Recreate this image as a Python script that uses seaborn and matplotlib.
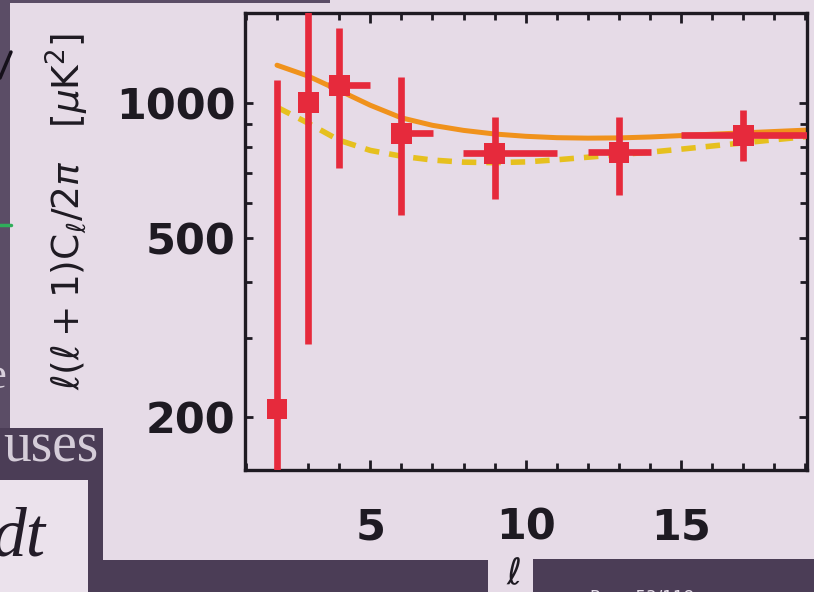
import matplotlib
matplotlib.use("Agg")
import matplotlib.pyplot as plt
import matplotlib.ticker as mticker
from matplotlib.patches import Rectangle
from matplotlib.lines import Line2D
import seaborn as sns
import numpy as np

# ---------------- data ----------------
ell = [2, 3, 4, 6, 9, 13, 17]
cl = [208, 1005, 1097, 857, 773, 777, 848]
cl_upper = [1125, 2500, 1470, 1143, 930, 930, 965]
cl_lower = [1, 291, 716, 562, 610, 623, 742]
bin_lo = [2, 3, 3.64, 5.7, 7.98, 12.0, 15.0]
bin_hi = [2, 3, 5.0, 7.02, 11.0, 14.03, 19.05]

ell_th = [2, 3, 4, 5, 6, 7, 8, 9, 10, 11, 12, 13, 14, 15, 16, 17, 18, 19]
model_solid = [1216, 1150, 1068, 990, 928, 893, 870, 854, 844, 838, 836, 837,
               841, 847, 853, 859, 865, 871]
model_dashed = [980, 903, 827, 785, 762, 747, 739, 737, 740, 748, 758, 768,
                778, 790, 803, 816, 829, 842]

y_ticks = [200, 500, 1000]
y_minor = [300, 400, 600, 700, 800, 900]
x_ticks = [5, 10, 15]

# ---------------- style ----------------
BG = "#e6dbe7"
DARK = "#4b3d56"
RED = "#e62a3c"
ORANGE = "#f0921c"
GOLD = "#e6c01e"
INK = "#1e1a22"

sns.set_theme(style="ticks")
plt.rcParams["font.family"] = ["DejaVu Sans"]

W, H = 814, 592
fig = plt.figure(figsize=(W / 100, H / 100), dpi=100)
fig.patch.set_facecolor(BG)

def fx(px):
    return px / W

def fy(py):
    return 1 - py / H

L, R, T, B = 245, 807, 13, 470
ax = fig.add_axes([fx(L), fy(B), (R - L) / W, (B - T) / H])
ax.set_facecolor(BG)

# theory curves
sns.lineplot(x=ell_th, y=model_solid, ax=ax, color=ORANGE, linewidth=3.6,
             zorder=2)
sns.lineplot(x=ell_th, y=model_dashed, ax=ax, color=GOLD, linewidth=4.0,
             linestyle="--", zorder=2)
ax.lines[-1].set_dashes([2.6, 1.8])

# data error bars
ell_a = np.array(ell, dtype=float)
cl_a = np.array(cl, dtype=float)
yerr = [cl_a - np.array(cl_lower), np.array(cl_upper) - cl_a]
xerr = [ell_a - np.array(bin_lo), np.array(bin_hi) - ell_a]
ax.errorbar(ell_a, cl_a, yerr=yerr, xerr=xerr, fmt="none", ecolor=RED,
            elinewidth=4.8, capsize=0, zorder=3)
sns.scatterplot(x=ell, y=cl, ax=ax, marker="s", s=225, color=RED,
                edgecolor="none", linewidth=0, zorder=4)

ax.set_yscale("log")
ax.set_xlim(0.97, 19.05)
ax.set_ylim(152, 1590)

ax.yaxis.set_major_locator(mticker.FixedLocator(y_ticks))
ax.yaxis.set_major_formatter(mticker.FixedFormatter([str(v) for v in y_ticks]))
ax.yaxis.set_minor_locator(mticker.FixedLocator(y_minor))
ax.yaxis.set_minor_formatter(mticker.NullFormatter())
ax.xaxis.set_major_locator(mticker.FixedLocator(x_ticks))
ax.xaxis.set_minor_locator(mticker.MultipleLocator(1))

for s in ax.spines.values():
    s.set_linewidth(2.4)
    s.set_color(INK)
ax.tick_params(which="both", direction="in", top=True, right=True,
               color=INK, width=2.0)
ax.tick_params(which="major", length=7)
ax.tick_params(which="minor", length=5)
ax.tick_params(axis="y", which="major", length=6)
ax.tick_params(axis="y", which="major", pad=7, labelsize=31, labelcolor=INK)
ax.tick_params(axis="x", which="major", pad=26, labelsize=31, labelcolor=INK)
for lab in ax.get_xticklabels() + ax.get_yticklabels():
    lab.set_fontweight("bold")
ax.set_xlabel("")
ax.set_ylabel("")

# y label (rotated)
fig.text(fx(67), fy(211), r"$\ell(\ell+1)\mathrm{C}_{\ell}/2\pi$   [$\mu$K$^2$]",
         rotation=90, ha="center", va="center", fontsize=27, color=INK)

# x label
fig.text(fx(514), fy(574), r"$\ell$", ha="center", va="center", fontsize=26,
         color=INK)

# ---------------- slide overlays ----------------
def rect(x0, y0, x1, y1, color, z=5):
    fig.add_artist(Rectangle((fx(x0), fy(y1)), (x1 - x0) / W, (y1 - y0) / H,
                             transform=fig.transFigure, facecolor=color,
                             edgecolor="none", zorder=z))

rect(0, 0, 10, 430, "#5b4d66")
rect(0, 0, 330, 3, "#5b4d66")
rect(0, 428, 103, 480, DARK)
rect(0, 480, 88, 592, "#ebe2ec")
rect(88, 480, 103, 592, DARK)
rect(88, 560, 488, 592, DARK)
rect(533, 559, 814, 592, DARK)

fig.add_artist(Line2D([fx(0), fx(11)], [fy(78), fy(52)], transform=fig.transFigure,
                      color="#15101a", linewidth=2.5, zorder=6))
fig.add_artist(Line2D([fx(0), fx(11)], [fy(225), fy(225)], transform=fig.transFigure,
                      color="#2fae5a", linewidth=2.5, zorder=6))

fig.text(fx(-14), fy(388), "e", fontsize=32, family="Liberation Serif",
         color="#d8d0dc", ha="left", va="baseline", zorder=7)
fig.text(fx(99), fy(462), "uses", fontsize=40, family="Liberation Serif",
         color="#d5cdd9", ha="right", va="baseline", zorder=7)
fig.text(fx(-8), fy(556), "dt", fontsize=50, family="Liberation Serif",
         style="italic", color="#231c28", ha="left", va="baseline", zorder=7)
fig.text(fx(590), fy(589), "Page 53/118", fontsize=12, color="#e4dce8",
         ha="left", va="top", zorder=7)

fig.savefig("out.png", dpi=100, facecolor=fig.get_facecolor())
